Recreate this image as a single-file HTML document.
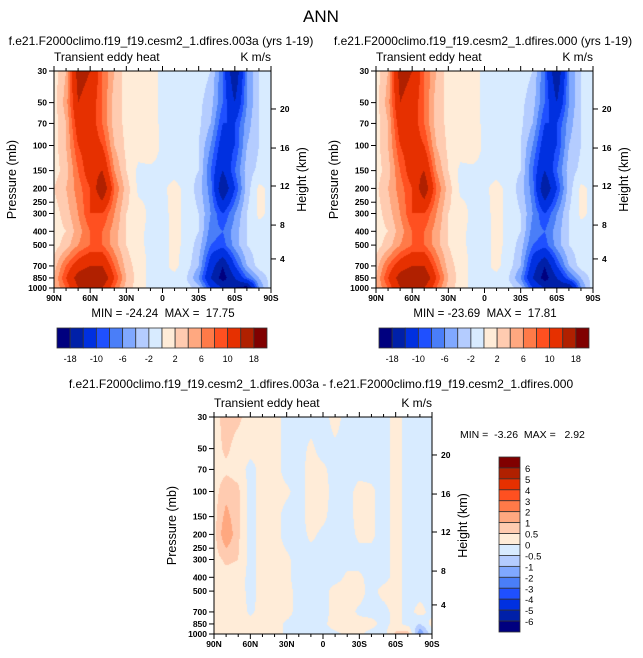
<!DOCTYPE html>
<html><head><meta charset="utf-8">
<style>
body{margin:0;background:#fff;}
#root{position:relative;width:643px;height:658px;overflow:hidden;font-family:"Liberation Sans",Arial,sans-serif;}
canvas{position:absolute;}
svg{position:absolute;left:0;top:0;}
svg text{white-space:pre;}
</style></head>
<body>
<div id="root">
<canvas id="c1" width="217" height="217" style="left:54px;top:71px"></canvas>
<canvas id="c2" width="217" height="217" style="left:376px;top:71px"></canvas>
<canvas id="c3" width="218" height="217" style="left:214px;top:417px"></canvas>
<svg id="s" width="643" height="658"></svg>
</div>
<script>
const lats=[90,80,70,60,50,40,30,20,10,0,-10,-20,-30,-40,-50,-60,-70,-80,-90];
const pres=[30,50,70,100,150,200,300,400,500,700,850,1000];
const levelsTop=[-18,-14,-10,-8,-6,-4,-2,0,2,4,6,8,10,14,18];
const levelsDiff=[-6,-5,-4,-3,-2,-1,-0.5,0,0.5,1,2,3,4,5,6];
const levelLabelsTop=["-18","-10","-6","-2","2","6","10","18"];
const levelLabelsDiff=["6","5","4","3","2","1","0.5","0","-0.5","-1","-2","-3","-4","-5","-6"];
const colors=["#00007f","#0020a8","#0030e0","#1f50ff","#4a7ef8","#80a8ff","#b4ccff","#d8ebff","#ffecd8","#ffcbb0","#ffa880","#ff7a48","#ff5020","#e63000","#b02000","#800000"];
const xTickLabels=["90N","60N","30N","0","30S","60S","90S"];
const pTicks=[30,50,70,100,150,200,250,300,400,500,700,850,1000];
const hTicks=[20,16,12,8,4];
const hTickFrac=[0.175,0.355,0.53,0.71,0.866];
const fieldA=[
[1,4,16,14,8,4,1,1,1,-0.5,-0.5,-0.5,-1,-2,-8,-18,-6,-2,-1],
[1,5,14,12,8,3,1.5,1,1,-0.5,-0.5,-0.7,-1.5,-3,-8,-14,-6,-2,-1],
[1,4,12,12,8,3,1.5,1,1,-0.5,-0.5,-1,-1.5,-4,-10,-10,-5,-2,-1],
[1,4,10,12,10,4,1.5,1,1.5,-0.5,-0.6,-1,-2,-6,-12,-10,-4,-2,-1],
[1,3,8,12,14,6,2,-0.5,-0.5,-0.5,-0.5,-1,-2,-8,-14,-8,-3,-1.5,-1],
[2,4,7,10,18,8,3,-0.5,-0.5,-0.3,0.5,-0.5,-3,-7,-18,-10,-3,0.5,-0.5],
[1,3,6,10,10,6,2,1,-0.5,-0.5,0.5,-0.5,-2,-6,-10,-6,-2,0.5,-0.5],
[1,2,5,8,8,5,2,0.5,-0.5,-0.5,0.5,-0.5,-2,-7,-8,-5,-2,-1,-0.5],
[1,3,6,8,8,5,2,0.5,-0.5,-0.5,0.5,-0.5,-3,-8,-9,-5,-2,-1,-0.5],
[3,8,12,14,14,8,3,1,-0.5,-0.5,0.5,-1,-4,-12,-18,-10,-4,-1,-0.5],
[4,10,16,18,18,10,4,1,-0.5,-0.5,-0.5,-2,-6,-14,-20,-14,-8,-4,-1],
[4,8,14,16,14,8,3,1,-0.5,-0.5,-0.5,-1,-3,-10,-14,-18,-20,-6,-1]];
const fieldB=[
[1,4,16,14,8,4,1,1,1,-0.5,-0.5,-0.5,-1,-2,-8,-18,-6,-2,-1],
[1,5,14,12,8,3,1.5,1,1,-0.5,-0.5,-0.7,-1.5,-3,-8,-14,-6,-2,-1],
[1,4,12,12,8,3,1.5,1,1,-0.5,-0.5,-1,-1.5,-4,-10,-10,-5,-2,-1],
[1,4,10,12,10,4,1.5,1,1.5,-0.5,-0.6,-1,-2,-6,-12,-10,-4,-2,-1],
[1,3,8,12,14,6,2,-0.5,-0.5,-0.5,-0.5,-1,-2,-8,-14,-8,-3,-1.5,-1],
[1.5,4,7,10,17,8,3,-0.5,-0.5,-0.3,0.5,-0.5,-3,-7,-18,-10,-3,0.5,-0.5],
[1,3,6,10,10,6,2,1,-0.5,-0.5,0.5,-0.5,-2,-6,-10,-6,-2,0.5,-0.5],
[1,2,5,8,8,5,2,0.5,-0.5,-0.5,0.5,-0.5,-2,-7,-8,-5,-2,-1,-0.5],
[1,3,6,8,8,5,2,0.5,-0.5,-0.5,0.5,-0.5,-3,-8,-9,-5,-2,-1,-0.5],
[3,8,12,14,14,8,3,1,-0.5,-0.5,0.5,-1,-4,-12,-18,-10,-4,-1,-0.5],
[4,10,16,18,18,10,4,1,-0.5,-0.5,-0.5,-2,-6,-14,-20,-14,-8,-4,-1],
[4,8,14,16,14,8,3,1,-0.5,-0.5,-0.5,-1,-3,-10,-14,-18,-18,-6,-1]];
const fieldD=[
[0.3,0.7,0.6,0.3,0.2,0.2,-0.2,-0.2,-0.2,-0.2,0.2,-0.2,-0.2,-0.2,-0.2,0.2,-0.2,-0.2,-0.2],
[0.3,0.6,0.3,0.2,0.2,0.2,-0.2,-0.2,0.1,-0.2,-0.1,-0.2,-0.2,-0.2,-0.2,0.2,-0.2,-0.2,-0.2],
[0.3,0.4,0.3,-0.2,0.2,0.2,-0.2,-0.2,0.2,0.1,-0.2,-0.2,-0.2,-0.2,-0.2,0.2,-0.2,-0.2,-0.2],
[0.3,0.8,0.6,-0.2,0.2,0.2,0.1,-0.2,0.2,0.2,-0.2,-0.2,0.2,0.1,-0.2,0.2,-0.2,-0.2,-0.2],
[0.3,1.2,0.6,-0.2,0.2,0.2,-0.2,-0.2,0.2,0.1,-0.2,-0.2,0.2,0.1,-0.2,0.2,-0.2,-0.2,-0.2],
[0.3,1.5,0.6,-0.2,0.2,0.2,-0.2,-0.2,0.1,-0.1,-0.2,-0.2,0.1,0.1,-0.2,0.2,-0.2,-0.2,-0.2],
[0.3,0.6,0.5,-0.2,0.2,0.2,0.1,-0.2,-0.2,-0.2,-0.2,-0.2,-0.2,-0.2,-0.2,0.2,-0.2,-0.2,-0.2],
[0.3,0.3,0.3,-0.2,0.2,0.2,0.1,-0.2,-0.2,-0.2,-0.2,0.1,0.1,-0.2,-0.2,0.2,-0.2,-0.2,-0.2],
[0.3,0.3,0.3,-0.2,0.2,0.2,0.2,-0.2,-0.2,-0.2,0.2,0.2,0.2,-0.2,0.2,0.2,-0.2,-0.2,-0.2],
[0.3,0.3,0.3,-0.1,0.2,0.2,0.2,-0.2,-0.2,-0.2,0.2,0.2,-0.1,-0.2,-0.2,0.2,-0.2,0.2,-0.2],
[0.3,0.3,0.3,0.2,0.2,0.2,-0.1,-0.2,-0.2,-0.1,0.2,0.2,0.2,0.2,-0.2,0.2,-0.2,-0.5,0.2],
[0.3,0.3,0.3,0.2,0.1,0.2,-0.1,-0.1,-0.2,-0.2,-0.1,0.1,0.1,-0.2,-0.2,0.6,0.8,-1.5,-0.2]];

const L0=Math.log(30),L1=Math.log(1000);
function hex(c){return [parseInt(c.slice(1,3),16),parseInt(c.slice(3,5),16),parseInt(c.slice(5,7),16)];}
const rgb=colors.map(hex);
function sample(F,lat,p){
  let c=(90-lat)/10; let j=Math.min(17,Math.floor(c)); let s=c-j;
  let lp=Math.log(p); let i=0; while(i<pres.length-2 && p>pres[i+1]) i++;
  let t=(lp-Math.log(pres[i]))/(Math.log(pres[i+1])-Math.log(pres[i]));
  const a=F[i][j]*(1-s)+F[i][j+1]*s, b=F[i+1][j]*(1-s)+F[i+1][j+1]*s;
  return a*(1-t)+b*t;
}
function draw(id,F,levels){
  const cv=document.getElementById(id),ctx=cv.getContext('2d');
  const W=cv.width,H=cv.height,img=ctx.createImageData(W,H);
  for(let y=0;y<H;y++){const p=Math.exp(L0+(y+0.5)/H*(L1-L0));
    for(let x=0;x<W;x++){const lat=90-(x+0.5)/W*180;
      const v=sample(F,lat,p); let k=0; while(k<levels.length && v>=levels[k]) k++;
      const c=rgb[k],o=(y*W+x)*4; img.data[o]=c[0];img.data[o+1]=c[1];img.data[o+2]=c[2];img.data[o+3]=255;}}
  ctx.putImageData(img,0,0);
}
draw('c1',fieldA,levelsTop);draw('c2',fieldB,levelsTop);draw('c3',fieldD,levelsDiff);

const S=document.getElementById('s'),NS='http://www.w3.org/2000/svg';
function el(tag,attrs,txt){const e=document.createElementNS(NS,tag);for(const k in attrs)e.setAttribute(k,attrs[k]);if(txt!==undefined)e.textContent=txt;S.appendChild(e);return e;}
function txt(x,y,s,size,anchor,name,extra){const e=el('text',Object.assign({x:x,y:y,'font-size':size,'text-anchor':anchor||'start','font-family':'Liberation Sans, Arial, sans-serif'},extra||{}),s);

return e;}
function panel(x0,y0,w,h,pfx){
  const fr=el('rect',{x:x0,y:y0,width:w,height:h,fill:'none',stroke:'#000','stroke-width':1});
  
  
  pTicks.forEach(p=>{const y=y0+(Math.log(p)-L0)/(L1-L0)*h;
    el('line',{x1:x0-5,x2:x0,y1:y,y2:y,stroke:'#000'});
    txt(x0-7,y+3,String(p),8.5,'end',pfx+'-y-tick-label',{'font-weight':'bold'});});
  hTicks.forEach((z,i)=>{const y=y0+hTickFrac[i]*h;
    el('line',{x1:x0+w,x2:x0+w+5,y1:y,y2:y,stroke:'#000'});
    txt(x0+w+9,y+3,String(z),8.5,'start',pfx+'-height-tick-label',{'font-weight':'bold'});});
  for(let k=0;k<=18;k++){const x=x0+k/18*w;const major=k%3===0;
    el('line',{x1:x,x2:x,y1:y0+h,y2:y0+h+(major?5:3),stroke:'#000'});
    el('line',{x1:x,x2:x,y1:y0,y2:y0-(major?5:3),stroke:'#000'});
    if(major)txt(x,y0+h+13,xTickLabels[k/3],8.5,'middle',pfx+'-x-tick-label',{'font-weight':'bold'});}
  txt(x0,y0-10,'Transient eddy heat',12,'start',pfx+'-subtitle');
  txt(x0+w,y0-10,'K m/s',12,'end',pfx+'-units');
  txt(0,0,'Pressure (mb)',12.5,'middle',pfx+'-y-axis-title',{transform:`translate(${x0-38},${y0+h/2}) rotate(-90)`});
  txt(0,0,'Height (km)',12.5,'middle',pfx+'-height-axis-title',{transform:`translate(${x0+w+35},${y0+h/2}) rotate(-90)`});
}
panel(54,71,217,217,'left');panel(376,71,217,217,'right');panel(214,417,218,217,'diff');
txt(321,22,'ANN',17,'middle','figure-title');
txt(161,45,'f.e21.F2000climo.f19_f19.cesm2_1.dfires.003a (yrs 1-19)',12,'middle','left-title');
txt(483,45,'f.e21.F2000climo.f19_f19.cesm2_1.dfires.000 (yrs 1-19)',12,'middle','right-title');
txt(321,388,'f.e21.F2000climo.f19_f19.cesm2_1.dfires.003a - f.e21.F2000climo.f19_f19.cesm2_1.dfires.000',12,'middle','diff-title');
txt(163,317,'MIN = -24.24  MAX =  17.75',11.5,'middle','left-minmax');
txt(485,317,'MIN = -23.69  MAX =  17.81',11.5,'middle','right-minmax');
txt(460,438,'MIN =  -3.26  MAX =   2.92',10.5,'start','diff-minmax');
function hbar(x0,name){const w=210/16;
  colors.forEach((c,i)=>{const r=el('rect',{x:x0+i*w,y:328,width:w,height:20,fill:c,stroke:'#333','stroke-width':0.8});
  
  });
  levelLabelsTop.forEach((l,i)=>txt(x0+(1+2*i)*w,362,l,9,'middle',name+'-label'));}
hbar(57,'left-colorbar');hbar(379,'right-colorbar');
(function(){const h=175/16,x0=499,y0=457;
  colors.slice().reverse().forEach((c,i)=>{const r=el('rect',{x:x0,y:y0+i*h,width:21,height:h,fill:c,stroke:'#333','stroke-width':0.8});
  
  });
  levelLabelsDiff.forEach((l,i)=>txt(x0+26,y0+(i+1)*h+4,l,9.5,'start','diff-colorbar-label'));})();
</script>
</body></html>
